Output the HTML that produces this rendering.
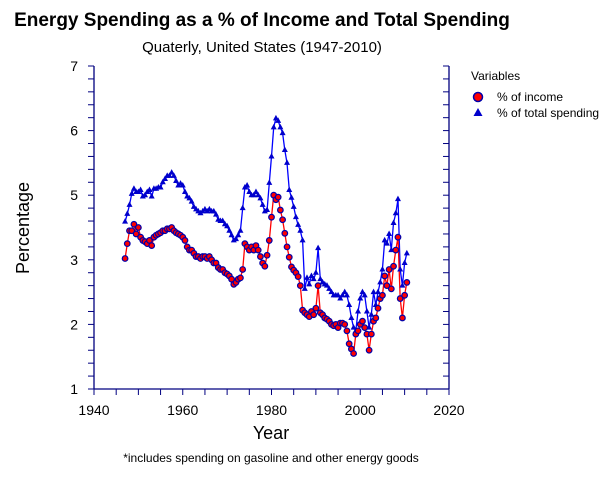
<!DOCTYPE html>
<html><head><meta charset="utf-8"><style>
body{margin:0;background:#fff;width:613px;height:476px;overflow:hidden;font-family:"Liberation Sans",sans-serif}
text{font-family:"Liberation Sans",sans-serif}
</style></head><body>
<svg id="chart" width="613" height="476">
<text x="262" y="26" font-size="19" font-weight="bold" text-anchor="middle">Energy Spending as a % of Income and Total Spending</text>
<text x="262" y="52" font-size="15" text-anchor="middle">Quaterly, United States (1947-2010)</text>
<text transform="translate(29,228) rotate(-90)" font-size="18" text-anchor="middle">Percentage</text>
<text x="271" y="439" font-size="18" text-anchor="middle">Year</text>
<text x="271" y="462" font-size="12" text-anchor="middle">*includes spending on gasoline and other energy goods</text>
<g id="axes"></g>
<g id="series"></g>
<g>
<text x="471" y="80" font-size="12">Variables</text>
<circle cx="478" cy="97" r="4.5" fill="#f00" stroke="#0000aa" stroke-width="1.5"/>
<text x="497" y="101" font-size="12">% of income</text>
<polygon points="478,108 482.5,116 473.5,116" fill="#0000cc"/>
<text x="497" y="117" font-size="12">% of total spending</text>
</g>
</svg>
<script>
const years=[1947,1947.5,1948,1948.5,1949,1949.5,1950,1950.5,1951,1951.5,1952,1952.5,1953,1953.5,1954,1954.5,1955,1955.5,1956,1956.5,1957,1957.5,1958,1958.5,1959,1959.5,1960,1960.5,1961,1961.5,1962,1962.5,1963,1963.5,1964,1964.5,1965,1965.5,1966,1966.5,1967,1967.5,1968,1968.5,1969,1969.5,1970,1970.5,1971,1971.5,1972,1972.5,1973,1973.5,1974,1974.5,1975,1975.5,1976,1976.5,1977,1977.5,1978,1978.5,1979,1979.5,1980,1980.5,1981,1981.5,1982,1982.5,1983,1983.5,1984,1984.5,1985,1985.5,1986,1986.5,1987,1987.5,1988,1988.5,1989,1989.5,1990,1990.5,1991,1991.5,1992,1992.5,1993,1993.5,1994,1994.5,1995,1995.5,1996,1996.5,1997,1997.5,1998,1998.5,1999,1999.5,2000,2000.5,2001,2001.5,2002,2002.5,2003,2003.5,2004,2004.5,2005,2005.5,2006,2006.5,2007,2007.5,2008,2008.5,2009,2009.5,2010,2010.5];
// values in axis position units (tick positions 1..6 carry printed labels 1,2,3,5,6,7)
const totalSpending=[3.59,3.71,3.85,4.02,4.1,4.05,
4.05,4.08,3.98,4.0,4.05,4.08,3.98,4.1,4.1,4.12,
4.12,4.2,4.25,4.3,4.3,4.35,4.3,4.22,4.15,4.18,
4.15,4.05,3.98,3.95,3.9,3.82,3.78,3.75,3.72,3.75,
3.78,3.75,3.78,3.75,3.75,3.7,3.62,3.6,3.6,3.55,
3.52,3.45,3.38,3.3,3.32,3.38,3.45,3.8,4.12,4.15,
4.05,4.0,4.0,4.05,4.0,3.95,3.85,3.75,3.77,4.19,
4.6,5.05,5.19,5.15,5.05,4.96,4.7,4.5,4.08,3.96,
3.82,3.66,3.54,3.45,3.3,2.55,2.72,2.62,2.75,2.7,
2.8,3.18,2.7,2.65,2.62,2.6,2.55,2.5,2.45,2.45,
2.45,2.4,2.45,2.5,2.45,2.3,2.1,1.95,1.9,2.2,
2.4,2.5,2.45,2.2,1.95,2.15,2.5,2.3,2.5,2.65,
2.85,3.3,3.25,3.4,3.15,3.57,3.72,3.94,2.85,2.6,
2.95,3.1];
const pctIncome=[3.02,3.25,3.45,3.45,3.55,3.4,
3.5,3.35,3.3,3.28,3.25,3.3,3.22,3.35,3.38,3.4,
3.42,3.45,3.45,3.48,3.48,3.5,3.45,3.42,3.4,3.38,
3.35,3.3,3.2,3.15,3.15,3.1,3.05,3.05,3.02,3.05,
3.05,3.02,3.05,3.0,2.95,2.95,2.88,2.85,2.85,2.8,
2.78,2.75,2.7,2.62,2.65,2.7,2.72,2.85,3.25,3.2,
3.15,3.2,3.15,3.22,3.15,3.05,2.95,2.9,3.07,3.3,
3.66,4.0,3.93,3.97,3.77,3.62,3.41,3.2,3.04,2.89,
2.84,2.8,2.74,2.6,2.22,2.18,2.15,2.12,2.2,2.15,
2.25,2.6,2.18,2.15,2.1,2.08,2.05,2.0,1.98,2.0,
1.95,2.02,2.02,2.0,1.9,1.7,1.62,1.55,1.85,1.9,
2.0,2.05,1.95,1.85,1.6,1.85,2.05,2.1,2.25,2.4,
2.45,2.75,2.6,2.85,2.55,2.9,3.15,3.35,2.4,2.1,
2.45,2.65];
const xTicks=[1940,1960,1980,2000,2020];
const yLabels=["1","2","3","5","6","7"];

const X0=94,X1=449,Y0=389,Y1=66;
const xs=v=>X0+(v-1940)/80*(X1-X0);
const ys=v=>Y0-(v-1)/5*(Y0-Y1);
const NS="http://www.w3.org/2000/svg";
function mk(tag,attrs,parent){const e=document.createElementNS(NS,tag);for(const k in attrs)e.setAttribute(k,attrs[k]);parent.appendChild(e);return e;}
const ax=document.getElementById('axes');
const ac="#000080";
let l;
l=mk('line',{x1:X0,y1:Y1,x2:X0,y2:Y0,stroke:ac,'stroke-width':1.3},ax);


l=mk('line',{x1:X1,y1:Y1,x2:X1,y2:Y0,stroke:ac,'stroke-width':1.3},ax);


l=mk('line',{x1:X0,y1:Y0,x2:X1,y2:Y0,stroke:ac,'stroke-width':1.3},ax);


for(let i=0;i<=25;i++){const y=Y0-i/25*(Y0-Y1);mk('line',{x1:X0-6,y1:y,x2:X0,y2:y,stroke:ac},ax);mk('line',{x1:X1-6,y1:y,x2:X1,y2:y,stroke:ac},ax);}
for(let v=1940;v<=2020;v+=5){const x=xs(v);mk('line',{x1:x,y1:Y0,x2:x,y2:Y0+6,stroke:ac},ax);}
xTicks.forEach(v=>{const t=mk('text',{x:xs(v),y:Y0+26,'font-size':14,'text-anchor':'middle'},ax);t.textContent=v;

});
yLabels.forEach((s,i)=>{const y=ys(i+1);const t=mk('text',{x:X0-16,y:y+5,'font-size':14,'text-anchor':'end'},ax);t.textContent=s;

});
const sg=document.getElementById('series');
function pts(arr){return years.map((y,i)=>xs(y).toFixed(1)+','+ys(arr[i]).toFixed(1)).join(' ');}
let p=mk('polyline',{points:pts(totalSpending),fill:'none',stroke:'#0000ff','stroke-width':1.3},sg);


p=mk('polyline',{points:pts(pctIncome),fill:'none',stroke:'#ff0000','stroke-width':1.3},sg);


years.forEach((yr,i)=>{const x=xs(yr),y=ys(totalSpending[i]);
const m=mk('polygon',{points:`${x},${y-3.5} ${x+3},${y+2} ${x-3},${y+2}`,fill:'#0000cc'},sg);

});
years.forEach((yr,i)=>{const x=xs(yr),y=ys(pctIncome[i]);
const m=mk('circle',{cx:x,cy:y,r:2.8,fill:'#ff0000',stroke:'#0000aa','stroke-width':1.2},sg);

});
</script>
</body></html>
